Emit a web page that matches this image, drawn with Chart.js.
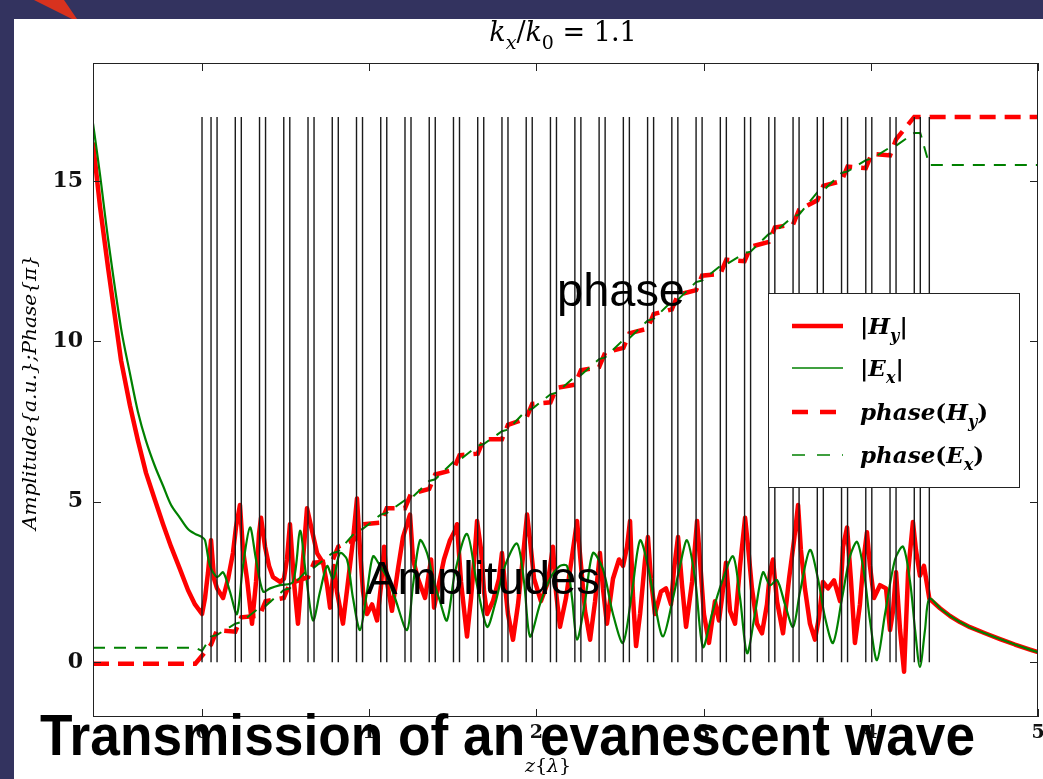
<!DOCTYPE html>
<html>
<head>
<meta charset="utf-8">
<script src="https://cdn.jsdelivr.net/npm/chart.js@4.4.0/dist/chart.umd.min.js"></script>
<style>
  html, body { margin: 0; padding: 0; background: #33335f; }
  #wrap { width: 1043px; height: 779px; }
</style>
</head>
<body>
<div id="wrap"><canvas id="chart" width="1043" height="779"></canvas></div>
<script>
// axis ticks
const xTicks = [0, 1, 2, 3, 4, 5];
const yTicks = [0, 5, 10, 15];

// layer interfaces (z in wavelengths), drawn as vertical lines up to lineTop
const lineTop = 17;
const layerBounds = [0,
  0.054, 0.090, 0.199, 0.235, 0.344, 0.380, 0.489, 0.525, 0.634, 0.670,
  0.779, 0.815, 0.924, 0.960, 1.069, 1.105, 1.214, 1.250, 1.359, 1.395,
  1.504, 1.540, 1.649, 1.685, 1.794, 1.830, 1.939, 1.975, 2.084, 2.120,
  2.230, 2.266, 2.375, 2.411, 2.520, 2.556, 2.665, 2.701, 2.810, 2.846,
  2.955, 2.991, 3.100, 3.136, 3.245, 3.281, 3.390, 3.426, 3.535, 3.571,
  3.680, 3.716, 3.825, 3.861, 3.970, 4.006, 4.115, 4.151, 4.260, 4.296,
  4.350];

// |Hy|
const hyZ = [
  -0.652, -0.610, -0.562, -0.484, -0.431, -0.383, -0.335, -0.281, -0.233, -0.185, -0.132, -0.084, -0.042,
  0, 0.018, 0.036, 0.054, 0.072, 0.090, 0.126, 0.156, 0.185, 0.203,
  0.227, 0.245, 0.269, 0.299, 0.323, 0.341, 0.353, 0.377, 0.401, 0.425,
  0.467, 0.490, 0.508, 0.526, 0.550, 0.574, 0.598, 0.628, 0.658, 0.688,
  0.724, 0.748, 0.766, 0.789, 0.807, 0.843, 0.873, 0.903, 0.927, 0.945,
  0.963, 0.987, 1.017, 1.047, 1.071, 1.089, 1.106, 1.136, 1.172, 1.202,
  1.226, 1.244, 1.262, 1.292, 1.334, 1.370, 1.388, 1.411, 1.447, 1.483,
  1.513, 1.525, 1.549, 1.585, 1.609, 1.633, 1.645, 1.669, 1.687, 1.705,
  1.740, 1.776, 1.794, 1.812, 1.830, 1.860, 1.890, 1.920, 1.944, 1.962,
  1.986, 2.027, 2.069, 2.099, 2.117, 2.141, 2.177, 2.213, 2.243, 2.267,
  2.291, 2.321, 2.351, 2.380, 2.398, 2.422, 2.458, 2.494, 2.518, 2.542,
  2.560, 2.578, 2.596, 2.620, 2.650, 2.667, 2.685, 2.709, 2.745, 2.775,
  2.805, 2.823, 2.847, 2.871, 2.895, 2.931, 2.961, 2.978, 3.002, 3.032,
  3.068, 3.092, 3.110, 3.134, 3.158, 3.188, 3.218, 3.248, 3.266, 3.289,
  3.319, 3.349, 3.379, 3.397, 3.415, 3.439, 3.475, 3.511, 3.541, 3.565,
  3.582, 3.606, 3.636, 3.666, 3.690, 3.714, 3.744, 3.780, 3.816, 3.834,
  3.858, 3.882, 3.905, 3.935, 3.959, 3.977, 3.995, 4.019, 4.055, 4.091,
  4.115, 4.133, 4.151, 4.175, 4.199, 4.223, 4.252, 4.270, 4.294, 4.318,
  4.350, 4.414, 4.474, 4.533, 4.593, 4.683, 4.773, 4.862, 4.952, 5.0];
const hyAmp = [
  16.2, 14.2, 12.3, 9.4, 8.0, 6.9, 5.9, 5.05, 4.3, 3.6, 2.9, 2.25, 1.8,
  1.5, 2.0, 2.8, 3.8, 2.6, 2.3, 2.0, 2.6, 3.4, 4.2,
  4.9, 3.5, 2.6, 1.2, 2.5, 4.0, 4.5, 3.6, 3.0, 2.65,
  2.5, 2.6, 3.2, 4.3, 2.5, 1.2, 2.8, 4.8, 4.1, 3.4,
  3.1, 2.4, 1.7, 3.0, 2.2, 1.2, 2.5, 3.8, 5.1, 3.5,
  2.2, 1.5, 1.8, 1.3, 2.4, 3.6, 2.5, 1.6, 2.9, 3.9,
  4.3, 4.6, 3.2, 2.6, 2.0, 3.2, 1.7, 2.3, 3.2, 3.8,
  4.1, 4.3, 2.5, 0.8, 2.0, 3.5, 4.4, 3.5, 2.2, 1.5,
  1.9, 2.6, 3.4, 2.4, 1.5, 0.7, 1.8, 3.3, 4.6, 3.8,
  2.6, 1.9, 2.5, 3.6, 2.2, 1.1, 2.0, 3.3, 4.4, 3.0,
  1.6, 0.7, 1.9, 3.4, 2.3, 1.2, 2.6, 3.2, 3.0, 3.6,
  4.4, 2.0, 0.5, 1.5, 3.2, 3.9, 2.6, 1.5, 2.2, 2.3,
  1.8, 2.9, 3.9, 2.4, 1.1, 2.5, 4.4, 3.2, 1.5, 0.6,
  1.9, 1.3, 2.0, 3.1, 1.6, 1.2, 3.0, 4.5, 3.6, 2.3,
  1.2, 0.9, 1.8, 2.8, 3.2, 1.9, 0.9, 2.6, 3.8, 4.9,
  3.5, 2.3, 1.2, 0.7, 1.4, 2.5, 2.3, 2.55, 1.9, 3.6,
  4.2, 2.5, 0.6, 1.8, 3.3, 4.05, 3.0, 2.0, 2.4, 2.3,
  1.0, 1.6, 2.8, 1.0, -0.3, 2.8, 4.37, 3.5, 2.7, 3.0,
  1.98, 1.68, 1.44, 1.25, 1.09, 0.9, 0.72, 0.55, 0.39, 0.31];

// |Ex|
const exZ = [
  -0.652, -0.610, -0.562, -0.484, -0.431, -0.383, -0.335, -0.281, -0.233, -0.185, -0.132, -0.084, -0.042,
  0, 0.018, 0.048, 0.090, 0.126, 0.167, 0.209, 0.245, 0.287, 0.323,
  0.365, 0.407, 0.467, 0.544, 0.586, 0.622, 0.664, 0.706, 0.748, 0.784,
  0.825, 0.867, 0.903, 0.945, 0.987, 1.023, 1.065, 1.106, 1.154, 1.226,
  1.262, 1.304, 1.346, 1.382, 1.423, 1.465, 1.513, 1.585, 1.645, 1.705,
  1.752, 1.812, 1.884, 1.926, 1.962, 2.021, 2.081, 2.141, 2.183, 2.213,
  2.243, 2.291, 2.338, 2.398, 2.458, 2.518, 2.572, 2.620, 2.667, 2.709,
  2.757, 2.817, 2.859, 2.901, 2.949, 2.996, 3.050, 3.110, 3.176, 3.218,
  3.260, 3.307, 3.355, 3.397, 3.439, 3.487, 3.535, 3.577, 3.636, 3.684,
  3.726, 3.774, 3.828, 3.876, 3.918, 3.959, 3.995, 4.037, 4.085, 4.145,
  4.193, 4.235, 4.265, 4.294, 4.324,
  4.350, 4.414, 4.474, 4.533, 4.593, 4.683, 4.773, 4.862, 4.952, 5.0];
const exAmp = [
  16.8, 15.2, 13.2, 10.4, 9.0, 7.8, 6.9, 6.1, 5.5, 4.9, 4.5, 4.15, 4.0,
  3.9, 3.8, 3.0, 2.65, 2.8, 2.2, 1.5, 3.0, 4.2, 3.2,
  2.2, 2.3, 2.4, 2.5, 4.1, 2.7, 1.3, 2.2, 3.0, 2.6,
  3.4, 3.2, 2.0, 1.0, 2.2, 3.3, 3.0, 2.65, 2.0, 1.0,
  2.4, 3.8, 3.4, 2.6, 1.9, 1.3, 2.8, 4.0, 2.4, 1.1,
  1.8, 3.0, 3.7, 2.5, 0.8, 1.8, 2.6, 3.0, 3.0, 2.0,
  0.7, 1.9, 3.4, 2.9, 1.5, 0.6, 2.2, 3.8, 3.0, 1.8,
  0.8, 2.0, 3.0, 3.8, 2.6, 0.47, 1.5, 2.5, 3.3, 2.0,
  0.28, 1.5, 2.8, 2.4, 2.56, 1.8, 1.1, 2.2, 3.5, 2.6,
  1.4, 0.6, 2.0, 3.3, 3.75, 2.8, 1.3, 0.06, 1.5, 3.2,
  3.6, 2.5, 1.0, -0.15, 1.0,
  1.98, 1.68, 1.44, 1.25, 1.09, 0.9, 0.72, 0.55, 0.39, 0.31];

// phases (units of pi), sampled at the interfaces
const phaseZ = [-0.652, -0.04].concat(layerBounds, [5.0]);
const phaseHy = [-0.05, -0.05, 0.2,
  0.55, 1.0, 0.95, 1.4, 1.45, 1.9, 2.0, 2.45, 2.65, 3.1,
  3.15, 3.6, 3.85, 4.3, 4.35, 4.8, 4.8, 5.25, 5.4, 5.85,
  6.0, 6.45, 6.5, 6.95, 6.95, 7.4, 7.6, 8.05, 8.1, 8.55,
  8.65, 9.1, 9.2, 9.65, 9.8, 10.25, 10.4, 10.85, 11.0, 11.45,
  11.6, 12.05, 12.1, 12.55, 12.5, 12.95, 13.1, 13.55, 13.65, 14.1,
  14.4, 14.85, 15.0, 15.45, 15.4, 15.85, 15.8, 16.3, 17.0, 17.0,
  17.0, 17.0];
const phaseEx = [0.45, 0.45, 0.35,
  0.8, 0.85, 1.2, 1.25, 1.7, 1.75, 2.25, 2.3, 2.9, 2.95,
  3.4, 3.45, 4.1, 4.15, 4.6, 4.65, 5.05, 5.1, 5.65, 5.7,
  6.25, 6.3, 6.75, 6.8, 7.2, 7.25, 7.85, 7.9, 8.35, 8.4,
  8.9, 8.95, 9.45, 9.5, 10.05, 10.1, 10.65, 10.7, 11.25, 11.3,
  11.85, 11.9, 12.35, 12.4, 12.75, 12.8, 13.35, 13.4, 13.9, 13.95,
  14.65, 14.7, 15.25, 15.3, 15.65, 15.7, 16.05, 16.1, 16.5, 16.5,
  15.5, 15.5];

const RED = '#ff0000';
const GREEN = '#008000';
const SERIF = '"DejaVu Serif", "Liberation Serif", serif';
const SANS = '"Liberation Sans", Arial, Helvetica, sans-serif';

function toPoints(zs, vs) {
  return zs.map((z, i) => ({ x: z, y: vs[i] }));
}

// draw a run of math-like text: kinds i=italic, r=roman, s=italic subscript, sr=roman subscript
function drawRuns(ctx, runs, x, y, size, opts) {
  const weight = opts.bold ? 'bold ' : '';
  const fontFor = (k) => {
    const sz = k.startsWith('s') ? Math.round(size * 0.7) : size;
    const it = (k === 'i' || k === 's') ? 'italic ' : '';
    return it + weight + sz + 'px ' + SERIF;
  };
  let total = 0;
  runs.forEach(([t, k]) => { ctx.font = fontFor(k); total += ctx.measureText(t).width; });
  let cx = opts.align === 'center' ? x - total / 2 : x;
  ctx.textAlign = 'left';
  runs.forEach(([t, k]) => {
    ctx.font = fontFor(k);
    const dy = k.startsWith('s') ? size * 0.3 : 0;
    ctx.fillText(t, cx, y + dy);
    cx += ctx.measureText(t).width;
  });
}

// fill text squeezed/stretched to a given width
function fitText(ctx, text, x, y, width) {
  const w = ctx.measureText(text).width;
  ctx.save();
  ctx.translate(x, y);
  ctx.scale(width / w, 1);
  ctx.textAlign = 'left';
  ctx.fillText(text, 0, 0);
  ctx.restore();
}

const pagePlugin = {
  id: 'page',
  beforeDraw(chart) {
    const ctx = chart.ctx;
    ctx.save();
    ctx.fillStyle = '#33335f';
    ctx.fillRect(0, 0, chart.width, chart.height);
    ctx.fillStyle = '#ffffff';
    ctx.fillRect(14, 19, chart.width - 14, chart.height - 19);
    ctx.fillStyle = '#d8321e';
    ctx.beginPath();
    ctx.moveTo(34, 0);
    ctx.lineTo(64, 0);
    ctx.lineTo(77, 19);
    ctx.lineTo(72, 19);
    ctx.closePath();
    ctx.fill();
    ctx.restore();
  },
  afterDraw(chart) {
    const ctx = chart.ctx;
    const a = chart.chartArea;
    const xs = chart.scales.x, ys = chart.scales.y;
    ctx.save();

    // frame and inward ticks on all sides
    ctx.strokeStyle = '#222';
    ctx.lineWidth = 1;
    ctx.strokeRect(a.left + 0.5, a.top + 0.5, a.right - a.left - 1, a.bottom - a.top - 1);
    ctx.beginPath();
    xTicks.forEach(v => {
      const px = Math.round(xs.getPixelForValue(v)) + 0.5;
      ctx.moveTo(px, a.bottom); ctx.lineTo(px, a.bottom - 8);
      ctx.moveTo(px, a.top); ctx.lineTo(px, a.top + 8);
    });
    yTicks.forEach(v => {
      const py = Math.round(ys.getPixelForValue(v)) + 0.5;
      ctx.moveTo(a.left, py); ctx.lineTo(a.left + 8, py);
      ctx.moveTo(a.right, py); ctx.lineTo(a.right - 8, py);
    });
    ctx.stroke();

    // tick labels
    ctx.fillStyle = '#111';
    ctx.font = 'bold 22px ' + SERIF;
    ctx.textAlign = 'right';
    ctx.textBaseline = 'middle';
    yTicks.forEach(v => ctx.fillText(String(v), a.left - 10, ys.getPixelForValue(v)));
    ctx.textAlign = 'center';
    ctx.font = 'bold 19px ' + SERIF;
    xTicks.forEach(v => ctx.fillText(String(v), xs.getPixelForValue(v), a.bottom + 16));

    // title and axis titles
    ctx.textBaseline = 'alphabetic';
    ctx.fillStyle = '#000';
    drawRuns(ctx, [['k', 'i'], ['x', 's'], ['/', 'r'], ['k', 'i'], ['0', 'sr'], [' = 1.1', 'r']],
      563, 41, 27, { align: 'center' });
    drawRuns(ctx, [['z', 'i'], ['{', 'r'], ['λ', 'i'], ['}', 'r']], 548, 772, 19, { align: 'center' });
    ctx.save();
    ctx.translate(36, 393);
    ctx.rotate(-Math.PI / 2);
    ctx.font = 'italic 19px ' + SERIF;
    const yl = 'Amplitude{a.u.};Phase{π}';
    fitText(ctx, yl, -137, 0, 275);
    ctx.restore();

    // legend
    const lx = 768, ly = 293, lw = 251, lh = 194;
    ctx.fillStyle = '#fff';
    ctx.fillRect(lx, ly, lw, lh);
    ctx.strokeStyle = '#222';
    ctx.lineWidth = 1;
    ctx.strokeRect(lx + 0.5, ly + 0.5, lw, lh);
    const rows = [
      { y: 326, color: RED, width: 4.5, dash: [], label: [['|', 'r'], ['H', 'i'], ['y', 's'], ['|', 'r']] },
      { y: 368, color: GREEN, width: 1.5, dash: [], label: [['|', 'r'], ['E', 'i'], ['x', 's'], ['|', 'r']] },
      { y: 412, color: RED, width: 4.5, dash: [16, 12], label: [['phase', 'i'], ['(', 'r'], ['H', 'i'], ['y', 's'], [')', 'r']] },
      { y: 455, color: GREEN, width: 1.5, dash: [13, 12], label: [['phase', 'i'], ['(', 'r'], ['E', 'i'], ['x', 's'], [')', 'r']] }
    ];
    rows.forEach(r => {
      ctx.strokeStyle = r.color;
      ctx.lineWidth = r.width;
      ctx.setLineDash(r.dash);
      ctx.beginPath();
      ctx.moveTo(792, r.y);
      ctx.lineTo(843, r.y);
      ctx.stroke();
      ctx.setLineDash([]);
      ctx.fillStyle = '#000';
      drawRuns(ctx, r.label, 860, r.y + 8, 23, { bold: true });
    });

    // annotations
    ctx.fillStyle = '#000';
    ctx.font = '46px ' + SANS;
    fitText(ctx, 'phase', 557, 306, 128);
    fitText(ctx, 'Amplitudes', 366, 594, 234);
    ctx.font = 'bold 57px ' + SANS;
    fitText(ctx, 'Transmission of an evanescent wave', 40, 755, 935);

    ctx.restore();
  }
};

const boundaryPoints = layerBounds.flatMap(b => [{ x: b, y: 0 }, { x: b, y: lineTop }, { x: b, y: null }]);

new Chart(document.getElementById('chart'), {
  type: 'line',
  data: {
    datasets: [
      { label: 'interfaces', data: boundaryPoints, borderColor: '#1b1b1b', borderWidth: 1.4,
        pointRadius: 0, spanGaps: false },
      { label: 'phase(Ex)', data: toPoints(phaseZ, phaseEx), borderColor: GREEN, borderWidth: 2,
        borderDash: [12, 9], pointRadius: 0 },
      { label: 'phase(Hy)', data: toPoints(phaseZ, phaseHy), borderColor: RED, borderWidth: 4.5,
        borderDash: [16, 9], pointRadius: 0 },
      { label: '|Ex|', data: toPoints(exZ, exAmp), borderColor: GREEN, borderWidth: 2.2,
        pointRadius: 0, tension: 0.3, borderJoinStyle: 'round' },
      { label: '|Hy|', data: toPoints(hyZ, hyAmp), borderColor: RED, borderWidth: 4.5,
        pointRadius: 0, borderJoinStyle: 'round' }
    ]
  },
  options: {
    responsive: false,
    animation: false,
    devicePixelRatio: 1,
    events: [],
    layout: { padding: { left: 93, top: 63, right: 5, bottom: 62 } },
    plugins: { legend: { display: false }, tooltip: { enabled: false } },
    scales: {
      x: { type: 'linear', min: -0.652, max: 5.0, display: false },
      y: { type: 'linear', min: -1.71, max: 18.68, display: false }
    }
  },
  plugins: [pagePlugin]
});
</script>
</body>
</html>
